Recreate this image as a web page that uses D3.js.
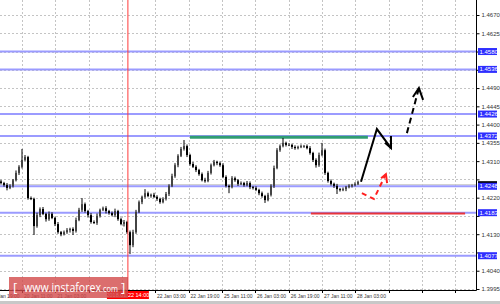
<!DOCTYPE html>
<html>
<head>
<meta charset="utf-8">
<script src="https://cdn.jsdelivr.net/npm/d3@7"></script>
<style>
  body { margin: 0; background: #fff; }
  svg { display: block; font-family: "Liberation Sans", Arial, sans-serif; }
</style>
</head>
<body>
<svg id="chart" width="500" height="304"></svg>
<script>
// candle closes, one per bar (open = previous close)
const firstOpen = 1.4260;
const closes = [
  1.4256, 1.4251, 1.4244, 1.4249, 1.4263, 1.4281, 1.4296, 1.4313, 1.4320, 1.4219,
  1.4217, 1.4150, 1.4177, 1.4192, 1.4180, 1.4167, 1.4180, 1.4170, 1.4155, 1.4135,
  1.4130, 1.4135, 1.4140, 1.4143, 1.4138, 1.4165, 1.4190, 1.4204, 1.4187, 1.4177,
  1.4160, 1.4158, 1.4175, 1.4190, 1.4194, 1.4187, 1.4182, 1.4177, 1.4187, 1.4167,
  1.4155, 1.4160, 1.4135, 1.4103, 1.4135, 1.4185, 1.4209, 1.4222, 1.4231, 1.4224,
  1.4227, 1.4222, 1.4217, 1.4209, 1.4217, 1.4229, 1.4249, 1.4273, 1.4300, 1.4323,
  1.4340, 1.4347, 1.4325, 1.4303, 1.4296, 1.4288, 1.4278, 1.4263, 1.4261, 1.4281,
  1.4300, 1.4308, 1.4305, 1.4300, 1.4271, 1.4249, 1.4246, 1.4268, 1.4263, 1.4254,
  1.4256, 1.4251, 1.4256, 1.4246, 1.4244, 1.4239, 1.4231, 1.4224, 1.4214, 1.4227,
  1.4249, 1.4293, 1.4337, 1.4347, 1.4355, 1.4350, 1.4350, 1.4345, 1.4342, 1.4345,
  1.4347, 1.4347, 1.4342, 1.4330, 1.4313, 1.4300, 1.4325, 1.4337, 1.4281, 1.4261,
  1.4254, 1.4249, 1.4241, 1.4239, 1.4241, 1.4246, 1.4249, 1.4251, 1.4254, 1.4259
];
// wick lengths above / below the body, in pips
const upWick = [
  4, 3, 5, 4, 3, 6, 4, 27, 5, 3,
  4, 3, 6, 4, 5, 3, 6, 4, 3, 5,
  3, 4, 5, 3, 4, 6, 5, 15, 4, 3,
  5, 4, 6, 3, 4, 5, 3, 4, 6, 3,
  4, 5, 3, 4, 6, 5, 4, 3, 10, 4,
  3, 5, 4, 3, 4, 5, 4, 6, 5, 4,
  5, 15, 4, 3, 5, 4, 3, 4, 6, 5,
  4, 5, 3, 4, 5, 4, 3, 5, 4, 3,
  4, 3, 5, 4, 3, 4, 3, 4, 3, 5,
  4, 6, 5, 4, 12, 3, 4, 3, 4, 3,
  4, 3, 4, 5, 3, 4, 6, 18, 4, 3,
  4, 3, 5, 3, 4, 3, 4, 3, 4, 3
];
const downWick = [
  3, 4, 6, 3, 4, 3, 5, 4, 3, 4,
  3, 22, 4, 5, 3, 6, 4, 3, 5, 4,
  5, 3, 4, 6, 10, 4, 3, 5, 4, 6,
  4, 3, 5, 4, 3, 6, 4, 3, 5, 4,
  3, 6, 4, 22, 5, 4, 3, 5, 4, 3,
  4, 3, 5, 4, 3, 4, 5, 3, 4, 5,
  3, 4, 5, 4, 3, 5, 4, 3, 4, 3,
  4, 3, 5, 4, 3, 4, 15, 3, 4, 5,
  3, 4, 3, 5, 4, 3, 5, 4, 7, 3,
  4, 5, 3, 4, 3, 4, 3, 5, 4, 3,
  3, 4, 3, 4, 5, 6, 4, 3, 5, 4,
  4, 5, 12, 4, 3, 5, 3, 4, 3, 3
];

const priceTicks = [1.3995, 1.4040, 1.4085, 1.4130, 1.4175, 1.4220, 1.4265, 1.4310,
  1.4355, 1.4400, 1.4445, 1.4490, 1.4535, 1.4580, 1.4625, 1.4670];
const levels = [1.4580, 1.4536, 1.4426, 1.4372, 1.4248, 1.4183, 1.4077];
const bidPrice = 1.4252;

// time grid, in bar index units
const timeTickIdx = [-4.1, 7, 18.1, 29.2, 40.3, 51.3, 62.5, 73.7, 84.7, 95.9, 107, 118, 129.2, 140.3, 151.3];
const timeLabels = ['19 Jan 19:00', '20 Jan 11:00', '21 Jan 03:00', '21 Jan 19:00', '22 Jan 11:00',
  '22 Jan 03:00', '22 Jan 19:00', '25 Jan 11:00', '26 Jan 03:00', '26 Jan 19:00', '27 Jan 11:00', '28 Jan 03:00'];
const cursorIdx = 42.3;
const cursorLabel = '2018.01.22 14:00';

// drawn annotations: [bar index, price]
const greenLine = [[63, 1.4369], [122.3, 1.4369]];
const redLine = [[103.3, 1.4181], [154.7, 1.4181]];
const solidArrow = [[120, 1.4259], [125.3, 1.4389], [130, 1.4342]];
const solidHead = [[130, 1.4372], [130, 1.4342], [128, 1.4355]];
const dashArrow = [[135.3, 1.4379], [139.3, 1.4490]];
const dashHead = [[137.3, 1.4468], [139.3, 1.4490], [140.7, 1.4461]];
const redArrow = [[120.3, 1.4231], [124.3, 1.4217], [128.3, 1.4278]];
const redHead = [[126.7, 1.4268], [128.3, 1.4278], [128.7, 1.4256]];

const plotRight = 476, plotBottom = 290;
const svg = d3.select('#chart');

const y = d3.scaleLinear().domain([1.3995, 1.4670]).range([289, 15]);
const x = d3.scaleLinear().domain([0, 119]).range([1, 358]);
const line = d3.line().x(d => x(d[0])).y(d => y(d[1]));
const fmt = d3.format('.4f');

const candles = closes.map((c, i) => {
  const o = i ? closes[i - 1] : firstOpen;
  return {
    i, o, c,
    h: Math.max(o, c) + upWick[i] / 10000,
    l: Math.min(o, c) - downWick[i] / 10000
  };
});

// grid
const grid = svg.append('g').attr('stroke', '#c4c4c4').attr('stroke-dasharray', '2,2').attr('stroke-width', 1);
grid.selectAll('line.h').data(priceTicks).enter().append('line')
  .attr('x1', 0).attr('x2', plotRight)
  .attr('y1', d => Math.round(y(d)) + 0.5).attr('y2', d => Math.round(y(d)) + 0.5);
grid.selectAll('line.v').data(timeTickIdx).enter().append('line')
  .attr('y1', 0).attr('y2', plotBottom)
  .attr('x1', d => Math.round(x(d)) + 0.5).attr('x2', d => Math.round(x(d)) + 0.5);

// bid line
svg.append('line')
  .attr('x1', 0).attr('x2', plotRight)
  .attr('y1', y(bidPrice)).attr('y2', y(bidPrice))
  .attr('stroke', '#c8c8c8').attr('stroke-width', 1);

// horizontal levels
svg.append('g').selectAll('line').data(levels).enter().append('line')
  .attr('x1', 0).attr('x2', plotRight)
  .attr('y1', d => y(d)).attr('y2', d => y(d))
  .attr('stroke', '#9b9bff').attr('stroke-width', 2);

svg.append('path').attr('d', line(greenLine))
  .attr('stroke', '#2f9d72').attr('stroke-width', 3).attr('fill', 'none');
svg.append('path').attr('d', line(redLine))
  .attr('stroke', '#e8343a').attr('stroke-width', 2).attr('fill', 'none');

// candles
const cg = svg.append('g');
cg.selectAll('line').data(candles).enter().append('line')
  .attr('x1', d => x(d.i)).attr('x2', d => x(d.i))
  .attr('y1', d => y(d.h)).attr('y2', d => y(d.l))
  .attr('stroke', '#000').attr('stroke-width', 1);
cg.selectAll('rect').data(candles).enter().append('rect')
  .attr('x', d => x(d.i) - 1)
  .attr('width', 2)
  .attr('y', d => y(Math.max(d.o, d.c)))
  .attr('height', d => Math.max(1, Math.abs(y(d.o) - y(d.c))))
  .attr('fill', d => d.c >= d.o ? '#444' : '#000');

// cursor line
svg.append('line')
  .attr('x1', x(cursorIdx)).attr('x2', x(cursorIdx))
  .attr('y1', 0).attr('y2', plotBottom)
  .attr('stroke', '#ff3b3b').attr('stroke-width', 1);

// arrows
const arrows = svg.append('g').attr('fill', 'none').attr('stroke-linejoin', 'miter');
arrows.append('path').attr('d', line(solidArrow)).attr('stroke', '#000').attr('stroke-width', 2);
arrows.append('path').attr('d', line(solidHead)).attr('stroke', '#000').attr('stroke-width', 2);
arrows.append('path').attr('d', line(dashArrow)).attr('stroke', '#000').attr('stroke-width', 2)
  .attr('stroke-dasharray', '6,4');
arrows.append('path').attr('d', line(dashHead)).attr('stroke', '#000').attr('stroke-width', 2);
arrows.append('path').attr('d', line(redArrow)).attr('stroke', '#ff2020').attr('stroke-width', 2)
  .attr('stroke-dasharray', '5,4');
arrows.append('path').attr('d', line(redHead)).attr('stroke', '#ff2020').attr('stroke-width', 2);

// frame
svg.append('path')
  .attr('d', `M0,${plotBottom + 0.5}H${plotRight + 0.5}V0`)
  .attr('stroke', '#000').attr('fill', 'none');
svg.append('rect').attr('x', 0).attr('y', 301).attr('width', 500).attr('height', 3).attr('fill', '#c8c8c8');

// price axis; labels sitting under a level box are hidden by it
const boxed = levels.concat([bidPrice]);
const yAxis = svg.append('g')
  .attr('transform', `translate(${plotRight + 0.5},0)`)
  .call(d3.axisRight(y).tickValues(priceTicks).tickSize(3).tickPadding(2).tickFormat(fmt));
yAxis.select('.domain').remove();
yAxis.selectAll('text')
  .attr('font-size', 6).attr('fill', '#333').attr('font-family', '"Liberation Sans", Arial, sans-serif')
  .attr('display', d => boxed.some(b => Math.abs(y(b) - y(d)) < 5.5) ? 'none' : null);
yAxis.selectAll('line').attr('stroke', '#000');

// time axis
const cursorBox = [x(cursorIdx) - 21, x(cursorIdx) + 21];
const tg = svg.append('g');
tg.selectAll('line').data(timeTickIdx).enter().append('line')
  .attr('x1', d => Math.round(x(d)) + 0.5).attr('x2', d => Math.round(x(d)) + 0.5)
  .attr('y1', plotBottom).attr('y2', plotBottom + 3)
  .attr('stroke', '#000');
tg.selectAll('text').data(timeLabels).enter().append('text')
  .attr('x', (d, i) => x(timeTickIdx[i]) + 2)
  .attr('y', 297.5)
  .attr('font-size', 5).attr('fill', '#333')
  .attr('display', (d, i) => {
    const x0 = x(timeTickIdx[i]) + 2;
    return x0 < cursorBox[1] && x0 + 27 > cursorBox[0] ? 'none' : null;
  })
  .text(d => d);

// price boxes
const boxes = svg.append('g');
boxes.append('rect')
  .attr('x', 478).attr('y', y(bidPrice) - 3.5).attr('width', 19).attr('height', 7).attr('fill', '#000');
boxes.append('text')
  .attr('x', 479.5).attr('y', y(bidPrice)).attr('dy', '0.35em')
  .attr('font-size', 6).attr('fill', '#fff').text(fmt(bidPrice));
const lb = boxes.selectAll('g.lv').data(levels).enter().append('g');
lb.append('rect')
  .attr('x', 478).attr('y', d => y(d) - 3.5).attr('width', 19).attr('height', 7).attr('fill', '#2e2eff');
lb.append('text')
  .attr('x', 479.5).attr('y', d => y(d)).attr('dy', '0.35em')
  .attr('font-size', 6).attr('fill', '#fff').text(d => fmt(d));

// cursor time label
svg.append('rect').attr('x', cursorBox[0]).attr('y', 291).attr('width', 42).attr('height', 8).attr('fill', '#ff0000');
svg.append('text').attr('x', x(cursorIdx)).attr('y', 297).attr('text-anchor', 'middle')
  .attr('font-size', 5.5).attr('fill', '#fff').text(cursorLabel);

// watermark
const logo = svg.append('g');
logo.append('rect').attr('x', 9).attr('y', 277).attr('width', 119).attr('height', 21)
  .attr('fill', '#d24a4a').attr('opacity', 0.8);
const lt = logo.append('text').attr('y', 292).attr('fill', '#fff').attr('font-family', '"Open Sans", Arial, sans-serif');
lt.append('tspan').attr('x', 13).attr('font-size', 13).text('[');
lt.append('tspan').attr('x', 24).attr('font-size', 12)
  .attr('textLength', 77).attr('lengthAdjust', 'spacingAndGlyphs').text('www.instaforex');
lt.append('tspan').attr('x', 101).attr('font-size', 9)
  .attr('textLength', 17).attr('lengthAdjust', 'spacingAndGlyphs').text('.com');
lt.append('tspan').attr('x', 121).attr('font-size', 13).text(']');
</script>
</body>
</html>
